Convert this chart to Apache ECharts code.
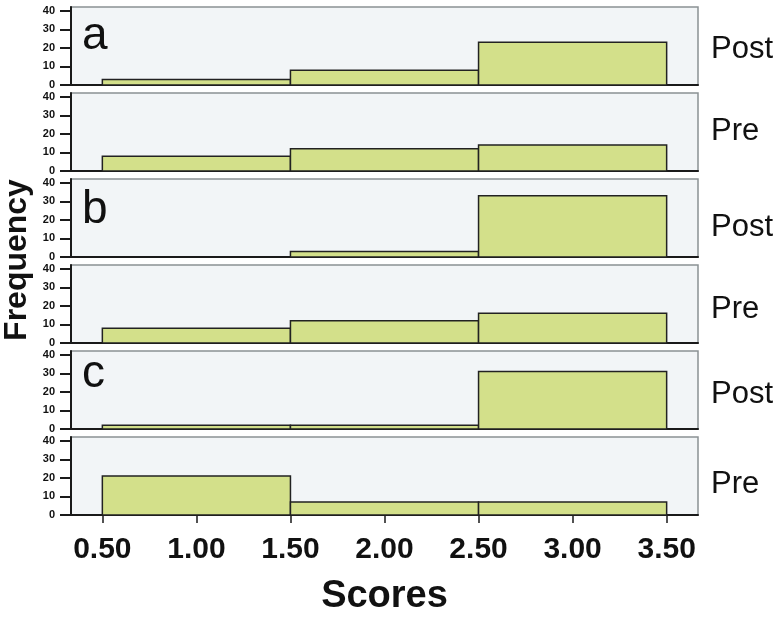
<!DOCTYPE html>
<html>
<head>
<meta charset="utf-8">
<script src="https://cdn.jsdelivr.net/npm/echarts@6/dist/echarts.min.js"></script>
<style>html,body{margin:0;padding:0;background:#fff;}#c{width:780px;height:618px;}</style>
</head>
<body>
<div id="c"></div>
<script>
// ---- data ----
const binEdges = [0.5, 1.5, 2.5, 3.5];
const xTicks = [0.5, 1.0, 1.5, 2.0, 2.5, 3.0, 3.5];
const yTicks = [0, 10, 20, 30, 40];
const groupLetters = ['a', 'b', 'c'];
const rowLabels = ['Post', 'Pre', 'Post', 'Pre', 'Post', 'Pre'];
const aPost = [3, 8, 23];
const aPre = [8, 12, 14];
const bPost = [0, 3, 33];
const bPre = [8, 12, 16];
const cPost = [2, 2, 31];
const cPre = [21, 7, 7];
const xTitle = 'Scores';
const yTitle = 'Frequency';

// ---- layout ----
const panels = [aPost, aPre, bPost, bPre, cPost, cPre];
const gridLeft = 71, gridRight = 82, panelH = 78, panelTop0 = 7, panelStep = 86;
const letterBaselines = [52, 226, 390];
const rowBaselines = [60, 142, 238, 320, 405, 495];
const FONT = 'Liberation Sans, Arial, Helvetica, sans-serif';

const grids = [], xAxes = [], yAxes = [], series = [], graphics = [];
panels.forEach(function (counts, i) {
  const top = panelTop0 + i * panelStep;
  const last = i === panels.length - 1;
  grids.push({
    left: gridLeft, right: gridRight, top: top, height: panelH,
    show: true, backgroundColor: '#f2f5f7', borderColor: '#8b9194', borderWidth: 1.5
  });
  xAxes.push({
    type: 'value', gridIndex: i, min: 1 / 3, max: 11 / 3,
    axisLine: { show: true, onZero: false, lineStyle: { color: '#1a1a1a', width: 2 } },
    axisTick: { show: last, customValues: xTicks, length: 8, lineStyle: { color: '#1a1a1a', width: 1.5 } },
    axisLabel: {
      show: last, customValues: xTicks, margin: 20,
      formatter: function (v) { return v.toFixed(2); },
      fontFamily: FONT, fontSize: 30, fontWeight: 'bold', color: '#111'
    },
    splitLine: { show: false },
    name: last ? xTitle : '', nameLocation: 'middle', nameGap: 63,
    nameTextStyle: { fontFamily: FONT, fontSize: 38, fontWeight: 'bold', color: '#111' }
  });
  yAxes.push({
    type: 'value', gridIndex: i, min: 0, max: 42,
    axisLine: { show: true, lineStyle: { color: '#1a1a1a', width: 2 } },
    axisTick: { show: true, customValues: yTicks, length: 11, lineStyle: { color: '#1a1a1a', width: 2 } },
    axisLabel: {
      customValues: yTicks, margin: 16,
      fontFamily: FONT, fontSize: 11, fontWeight: 'bold', color: '#111'
    },
    splitLine: { show: false }
  });
  const data = counts.map(function (v, k) { return [binEdges[k], binEdges[k + 1], v]; });
  series.push({
    type: 'custom', xAxisIndex: i, yAxisIndex: i, data: data,
    encode: { x: [0, 1], y: 2 },
    renderItem: function (params, api) {
      const v = api.value(2);
      if (!v) return null;
      const p0 = api.coord([api.value(0), v]);
      const p1 = api.coord([api.value(1), 0]);
      return {
        type: 'rect',
        shape: { x: p0[0], y: p0[1], width: p1[0] - p0[0], height: p1[1] - p0[1] },
        style: { fill: '#d3e08a', stroke: '#222', lineWidth: 1.5 }
      };
    }
  });
  graphics.push({
    type: 'text',
    style: {
      text: rowLabels[i], x: 711, y: rowBaselines[i] - 11,
      font: 'normal 31px ' + FONT, fill: '#111',
      textAlign: 'left', textVerticalAlign: 'middle'
    }
  });
});
groupLetters.forEach(function (g, j) {
  graphics.push({
    type: 'text',
    style: {
      text: g, x: 82, y: letterBaselines[j] - 16,
      font: 'normal 46px ' + FONT, fill: '#111',
      textAlign: 'left', textVerticalAlign: 'middle'
    }
  });
});
graphics.push({
  type: 'text', rotation: Math.PI / 2, x: 17, y: 260,
  style: {
    text: yTitle, x: 0, y: 0,
    font: 'bold 32px ' + FONT, fill: '#111',
    textAlign: 'center', textVerticalAlign: 'middle'
  }
});

const chart = echarts.init(document.getElementById('c'), null, { renderer: 'canvas' });
chart.setOption({
  backgroundColor: '#ffffff',
  animation: false,
  grid: grids, xAxis: xAxes, yAxis: yAxes, series: series, graphic: graphics
});
</script>
</body>
</html>
